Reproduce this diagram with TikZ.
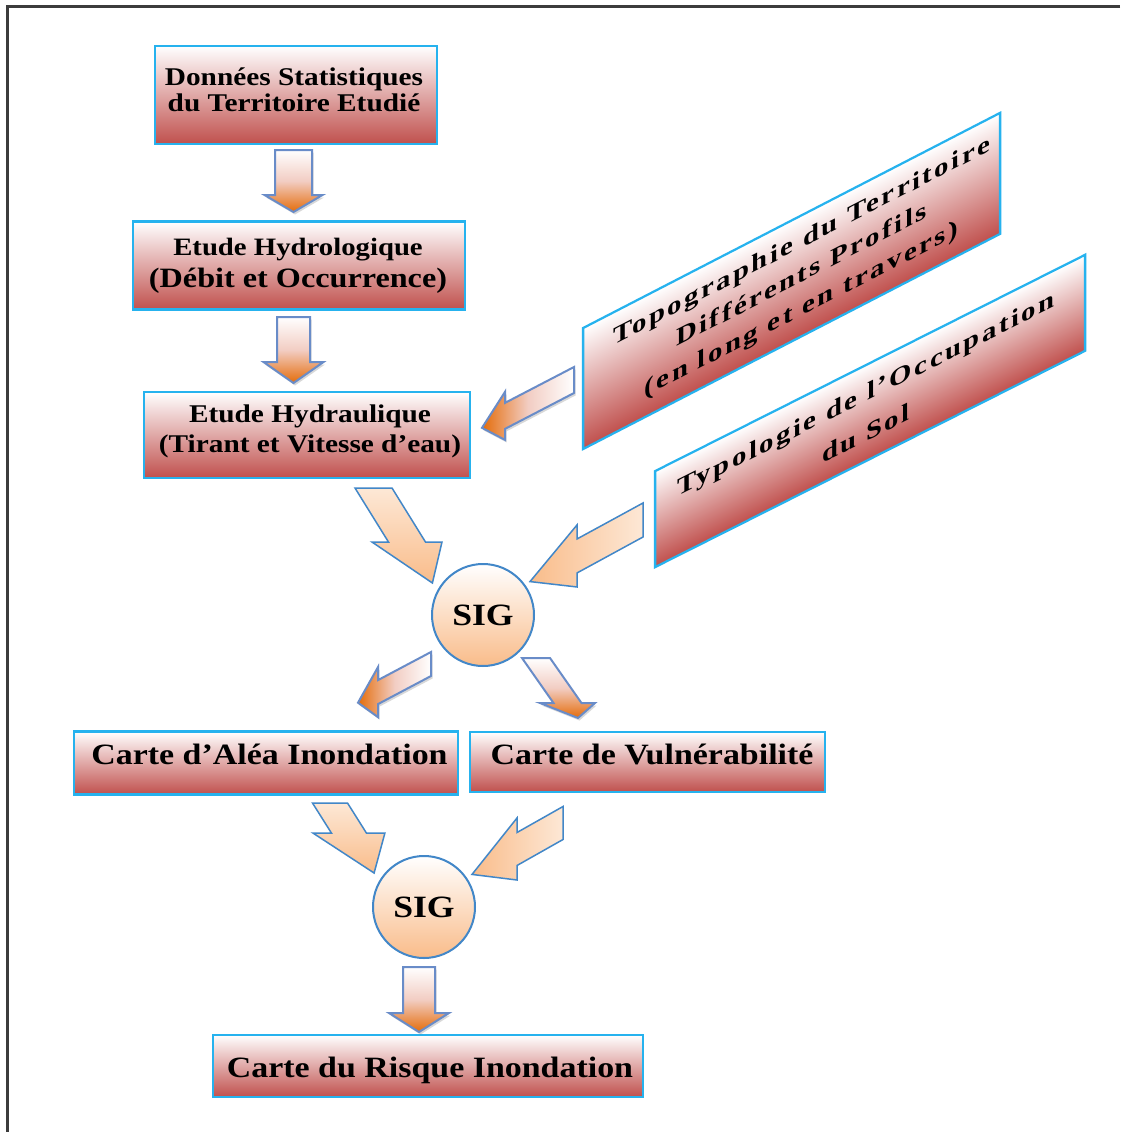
\documentclass[tikz,border=0pt]{standalone}
\usepackage{fontspec}
\setmainfont{Liberation Serif}[FakeStretch=1.15]
\newfontfamily\spacedfont{Liberation Serif}[FakeStretch=1.15, LetterSpace=10]
\usetikzlibrary{calc,shadows}

\definecolor{boxedge}{RGB}{38,178,238}
\definecolor{boxred}{RGB}{192,80,77}
\definecolor{arrowedge}{RGB}{105,140,200}
\definecolor{arroworange}{RGB}{228,108,10}
\definecolor{arrowpink}{RGB}{242,205,195}
\definecolor{peach}{RGB}{249,188,138}
\definecolor{peachlight}{RGB}{253,232,214}
\definecolor{sigedge}{RGB}{66,135,200}
\definecolor{framegray}{RGB}{60,60,60}

% downward block arrow, optionally sheared sideways
% #1 style, #2 tail centre x, #3 tail y, #4 shaft half width,
% #5 head base y, #6 head half width, #7 tip y, #8 shear
\newcommand\downarr[8]{%
  \pgfmathsetmacro\dsh{#8*(#5-#3)}%
  \pgfmathsetmacro\dst{#8*(#7-#3)}%
  \path[#1] (#2-#4,#3) -- (#2+#4,#3) -- (#2+#4+\dsh,#5) -- (#2+#6+\dsh,#5)
    -- (#2+\dst,#7) -- (#2-#6+\dsh,#5) -- (#2-#4+\dsh,#5) -- cycle;}
% leftward block arrow, sloping down towards its tip
% #1 style, #2 tail x, #3 tail centre y, #4 shaft half width,
% #5 head base x, #6 head half width, #7 tip x, #8 shear
\newcommand\leftarr[8]{%
  \pgfmathsetmacro\lsh{#8*(#2-#5)}%
  \pgfmathsetmacro\lst{#8*(#2-#7)}%
  \path[#1] (#2,#3-#4) -- (#5,#3-#4+\lsh) -- (#5,#3-#6+\lsh) -- (#7,#3+\lst)
    -- (#5,#3+#6+\lsh) -- (#5,#3+#4+\lsh) -- (#2,#3+#4) -- cycle;}

\tikzset{
  flowbox/.style={draw=boxedge, line width=2.5pt, top color=white,
    bottom color=boxred, inner sep=0pt},
  boxtext/.style={align=center, inner sep=0pt, text=black},
  sigcircle/.style={circle, draw=sigedge, line width=2pt, top color=white,
    bottom color=peach, minimum size=102pt, inner sep=0pt,
    font=\bfseries\fontsize{31}{34}\selectfont},
  arrA/.style={draw=arrowedge, line width=2pt,
    drop shadow={shadow xshift=1.5pt, shadow yshift=-2.5pt, opacity=0.3, fill=gray}},
  arrAdown/.style={arrA, top color=white, bottom color=arroworange, middle color=arrowpink},
  arrAleft/.style={arrA, left color=arroworange, right color=white, middle color=arrowpink},
  arrB/.style={draw=sigedge, line width=1.5pt},
  arrBdown/.style={arrB, top color=peachlight, bottom color=peach},
  arrBleft/.style={arrB, left color=peach, right color=peachlight},
}

\begin{document}
\begin{tikzpicture}[x=1pt, y=-1pt]
\useasboundingbox (0,0) rectangle (1120,1132);
\fill[white] (0,0) rectangle (1120,1132);
\draw[framegray, line width=3pt] (1120,7) -- (7,7) -- (7,1132);

% main column of boxes
\node[flowbox, minimum width=282pt, minimum height=98pt] (stat) at (296,95) {};
\node[boxtext, font=\bfseries\fontsize{25.5}{26}\selectfont] (statt) at (294,89.5)
  {Données Statistiques\\du Territoire Etudié};

\node[flowbox, minimum width=332pt, minimum height=88pt] (hydrol) at (299,265.5) {};
\node[boxtext, font=\bfseries\fontsize{25}{32.5}\selectfont] (hydrolt) at (298,266)
  {Etude Hydrologique\\{\fontsize{28}{32.5}\selectfont(Débit et Occurrence)}};

\node[flowbox, minimum width=326pt, minimum height=86pt] (hydrau) at (307,435) {};
\node[boxtext, font=\bfseries\fontsize{25.5}{30}\selectfont] (hydraut) at (310,431)
  {Etude Hydraulique\\(Tirant et Vitesse d’eau)};

% slanted input boxes
\begin{scope}[transform canvas={shift={(791.5,281)}, yslant=0.516}]
  \node[flowbox, minimum width=417pt, minimum height=121pt] (topo) at (0,0) {};
  \node[boxtext, font=\spacedfont\bfseries\fontsize{25}{34}\selectfont] (topot) at (10,0.5)
    {Topographie du Territoire\\Différents Profils\\(en long et en travers)};
\end{scope}
\begin{scope}[transform canvas={shift={(870,411)}, yslant=0.503}]
  \node[flowbox, minimum width=430pt, minimum height=96pt] (typo) at (0,0) {};
  \node[boxtext, font=\spacedfont\bfseries\fontsize{25}{40}\selectfont] (typot) at (-4,0)
    {Typologie de l’Occupation\\du Sol};
\end{scope}

% GIS steps
\node[sigcircle] (sig1) at (483,615) {SIG};
\node[sigcircle] (sig2) at (424,907) {SIG};

% map boxes
\node[flowbox, minimum width=384pt, minimum height=63pt] (alea) at (266,763) {};
\node[boxtext, font=\bfseries\fontsize{29.5}{32}\selectfont] (aleat) at (269.5,754)
  {Carte d’Aléa Inondation};
\node[flowbox, minimum width=355pt, minimum height=60pt] (vuln) at (647.5,762) {};
\node[boxtext, font=\bfseries\fontsize{29.5}{32}\selectfont] (vulnt) at (652,754)
  {Carte de Vulnérabilité};
\node[flowbox, minimum width=430pt, minimum height=62pt] (risk) at (428,1066) {};
\node[boxtext, font=\bfseries\fontsize{29.5}{32}\selectfont] (riskt) at (430,1070)
  {Carte du Risque Inondation};

% block arrows
\downarr{arrAdown}{293.5}{150}{18.5}{195}{29}{212}{0}
\downarr{arrAdown}{293.5}{317}{16.5}{362}{30}{383}{0}
\leftarr{arrAleft}{574}{380}{13}{505}{24}{482}{0.52}
\downarr{arrBdown}{373.5}{488}{18.5}{542}{35}{583}{0.62}
\leftarr{arrBleft}{643}{520}{17}{577}{31}{530}{0.545}
\leftarr{arrAleft}{431}{664}{12}{378}{25}{358}{0.53}
\downarr{arrAdown}{536}{658}{14}{703}{27.5}{718}{0.7}
\downarr{arrBdown}{330}{803}{17.5}{833}{36}{873}{0.63}
\leftarr{arrBleft}{563}{823}{16.5}{517}{31}{472}{0.565}
\downarr{arrAdown}{419}{967}{16}{1013}{30}{1032}{0}
\end{tikzpicture}
\end{document}
